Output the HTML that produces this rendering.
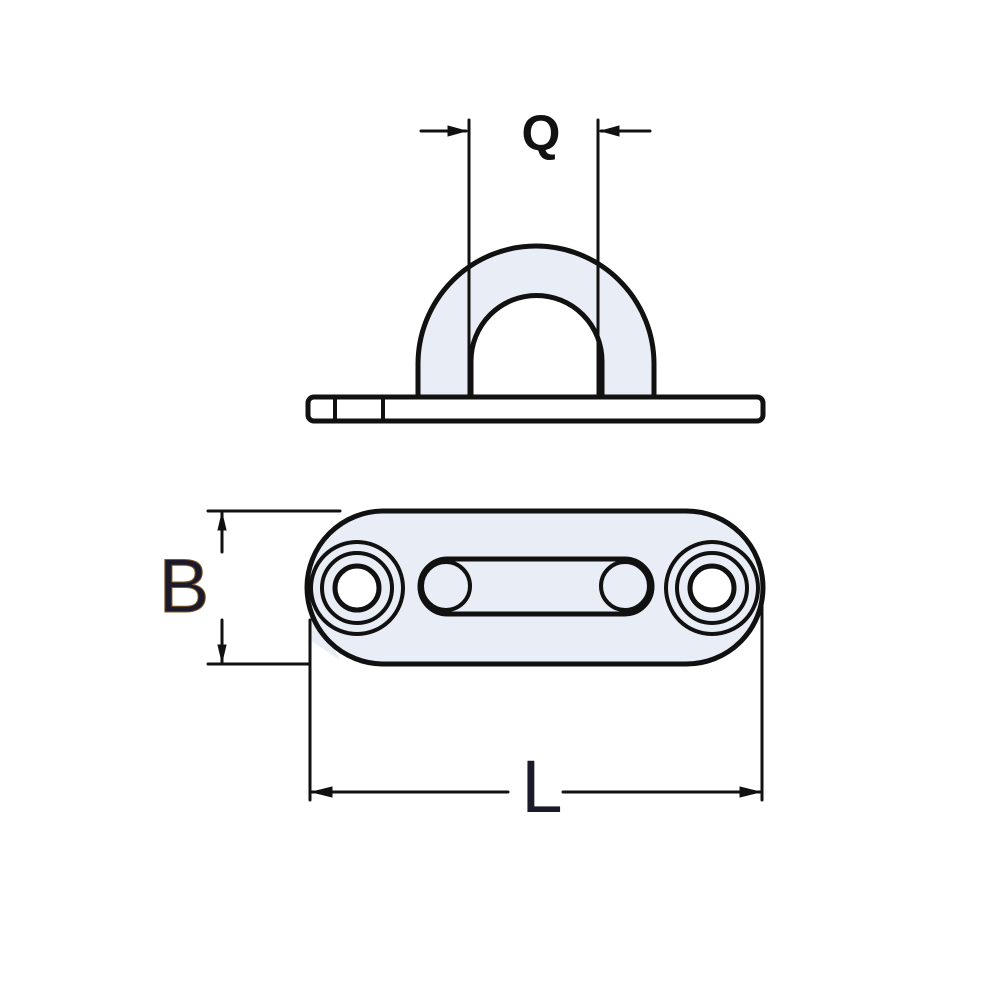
<!DOCTYPE html>
<html><head><meta charset="utf-8"><style>
html,body{margin:0;padding:0;background:#fff;width:1000px;height:1000px;overflow:hidden}
</style></head><body>
<svg width="1000" height="1000" viewBox="0 0 1000 1000" xmlns="http://www.w3.org/2000/svg">
<g stroke="#111" fill="none" stroke-linecap="round">
  <!-- top view bracket -->
  <path d="M418,397 L418,364 A118,118 0 0 1 654,364 L654,397 L602,397 L602,361 A65,65 0 0 0 471,361 L471,397 Z" fill="#e9edf5" stroke-width="5"/>
  <!-- base plate -->
  <rect x="308" y="397" width="455" height="24" rx="6" fill="#fff" stroke-width="5"/>
  <line x1="335" y1="399" x2="335" y2="419" stroke-width="4"/>
  <line x1="383" y1="399" x2="383" y2="419" stroke-width="4"/>
  <!-- Q dimension -->
  <line x1="469" y1="120" x2="469" y2="397" stroke-width="3"/>
  <line x1="598" y1="120" x2="598" y2="397" stroke-width="3"/>
  <line x1="421" y1="131" x2="466" y2="131" stroke-width="3"/>
  <line x1="601" y1="131" x2="650" y2="131" stroke-width="3"/>
  <path d="M466,131 L448,126 L448,136 Z" fill="#111" stroke-width="1"/>
  <path d="M601,131 L619,126 L619,136 Z" fill="#111" stroke-width="1"/>
  <!-- bottom plate -->
  <path d="M310,640 L310,600 L340,660 Z" fill="#e9edf5" stroke="none"/>
  <rect x="307" y="511" width="456" height="153" rx="76.5" fill="#e9edf5" stroke-width="5"/>
  <circle cx="357" cy="588" r="46" stroke-width="4"/>
  <circle cx="357" cy="588" r="35" stroke-width="4"/>
  <circle cx="357" cy="588" r="22" fill="#fff" stroke-width="5"/>
  <circle cx="712" cy="588" r="46" stroke-width="4"/>
  <circle cx="712" cy="588" r="35" stroke-width="4"/>
  <circle cx="712" cy="588" r="22" fill="#fff" stroke-width="5"/>
  <rect x="420" y="559" width="232" height="55" rx="27.5" fill="#e9edf5" stroke-width="5"/>
  <circle cx="446" cy="586" r="24" stroke-width="4"/>
  <circle cx="625" cy="586" r="24" stroke-width="4"/>
  <!-- B dimension -->
  <line x1="208" y1="511" x2="340" y2="511" stroke-width="3"/>
  <line x1="208" y1="664" x2="310" y2="664" stroke-width="3"/>
  <line x1="222" y1="513" x2="222" y2="552" stroke-width="3"/>
  <line x1="222" y1="620" x2="222" y2="662" stroke-width="3"/>
  <path d="M222,513 L218,530 L226,530 Z" fill="#111" stroke-width="1"/>
  <path d="M222,662 L218,645 L226,645 Z" fill="#111" stroke-width="1"/>
  <!-- L dimension -->
  <line x1="310" y1="620" x2="310" y2="800" stroke-width="3"/>
  <line x1="762" y1="590" x2="762" y2="800" stroke-width="3"/>
  <line x1="312" y1="792" x2="508" y2="792" stroke-width="3"/>
  <line x1="563" y1="792" x2="760" y2="792" stroke-width="3"/>
  <path d="M312,792 L332,787 L332,797 Z" fill="#111" stroke-width="1"/>
  <path d="M760,792 L740,787 L740,797 Z" fill="#111" stroke-width="1"/>
</g>
<text x="541" y="150" font-family="Liberation Sans, sans-serif" font-weight="bold" font-size="50" text-anchor="middle" fill="#111">Q</text>
<text x="184" y="612" font-family="Liberation Sans, sans-serif" font-size="76" text-anchor="middle" fill="#1a1a2a" stroke="#8a5a20" stroke-width="1">B</text>
<text x="542" y="812" font-family="Liberation Sans, sans-serif" font-size="74" text-anchor="middle" fill="#1a1a2a">L</text>
</svg>
</body></html>
